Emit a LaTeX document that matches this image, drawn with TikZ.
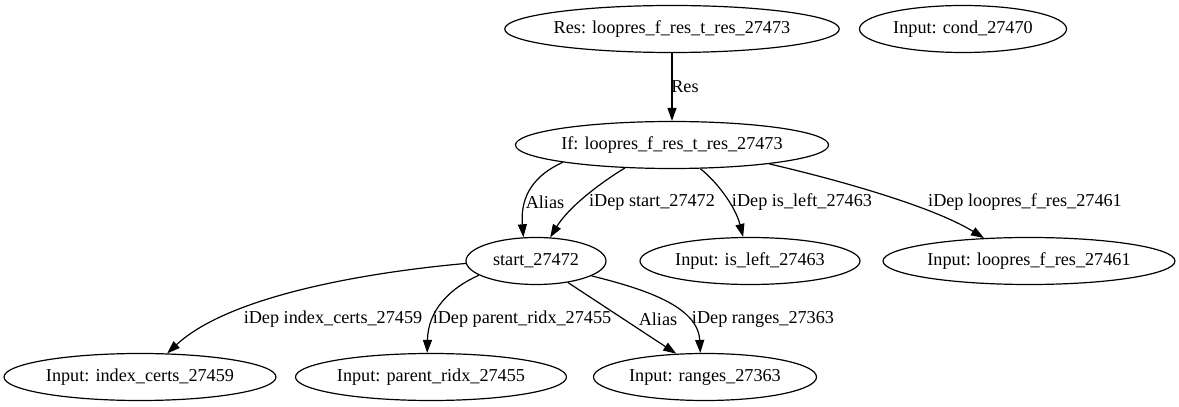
\documentclass[tikz,border=0pt]{standalone}
\usepackage{fontspec}
\setmainfont{Liberation Serif}
\usetikzlibrary{shapes.geometric,arrows.meta}
\begin{document}
\begin{tikzpicture}[x=1pt,y=1pt,
  gnode/.style={ellipse, draw, line width=1.2pt, inner sep=0pt, minimum height=47pt, font=\fontsize{18.2}{21}\selectfont},
  edge/.style={draw, line width=1.2pt, -{Triangle[length=13pt,width=9pt]}},
  elabel/.style={font=\fontsize{18.2}{21}\selectfont, inner sep=0pt}]
\useasboundingbox (0,0) rectangle (1179,407);
% nodes
\node[gnode, minimum width=333pt] (res) at (672,378) {Res: loopres\_f\_res\_t\_res\_27473};
\node[gnode, minimum width=207pt] (cond) at (963,378) {Input: cond\_27470};
\node[gnode, minimum width=312pt] (if) at (672,262) {If: loopres\_f\_res\_t\_res\_27473};
\node[gnode, minimum width=140pt] (start) at (536,146) {start\_27472};
\node[gnode, minimum width=220pt] (isleft) at (750,146) {Input: is\_left\_27463};
\node[gnode, minimum width=292pt] (loopres) at (1029,146) {Input: loopres\_f\_res\_27461};
\node[gnode, minimum width=272pt] (index) at (140,30) {Input: index\_certs\_27459};
\node[gnode, minimum width=271pt] (parent) at (431,30) {Input: parent\_ridx\_27455};
\node[gnode, minimum width=223pt] (ranges) at (705,30) {Input: ranges\_27363};
% edges
\draw[edge] (res.south) -- (if.north);
\draw[edge] (if.189.5) .. controls (535,232) and (520,212) .. (start.118.4);
\draw[edge] (if.206.6) .. controls (605,227) and (570,202) .. (start.59.7);
\draw[edge] (if.320.6) .. controls (715,227) and (735,202) .. (isleft.106.3);
\draw[edge] (if.349.3) .. controls (830,229) and (930,202) .. (loopres.153.9);
\draw[edge] (start.182.5) .. controls (370,135) and (230,112) .. (index.41.6);
\draw[edge] (start.194.7) .. controls (450,119) and (428,97) .. (parent.99.5);
\draw[edge] (start.326.7) -- (ranges.141.3);
\draw[edge] (start.345.3) .. controls (640,119) and (698,102) .. (ranges.101.8);
% labels
\node[elabel] (lres) at (685,320) {Res};
\node[elabel] (lalias1) at (545,204.5) {Alias};
\node[elabel] (lstart) at (652,204.5) {iDep start\_27472};
\node[elabel] (lisleft) at (802,204.5) {iDep is\_left\_27463};
\node[elabel] (lloop) at (1025,204.5) {iDep loopres\_f\_res\_27461};
\node[elabel] (lindex) at (333,88) {iDep index\_certs\_27459};
\node[elabel] (lparent) at (522,88) {iDep parent\_ridx\_27455};
\node[elabel] (lalias2) at (658,88) {Alias};
\node[elabel] (lranges) at (763,88) {iDep ranges\_27363};
\end{tikzpicture}
\end{document}
